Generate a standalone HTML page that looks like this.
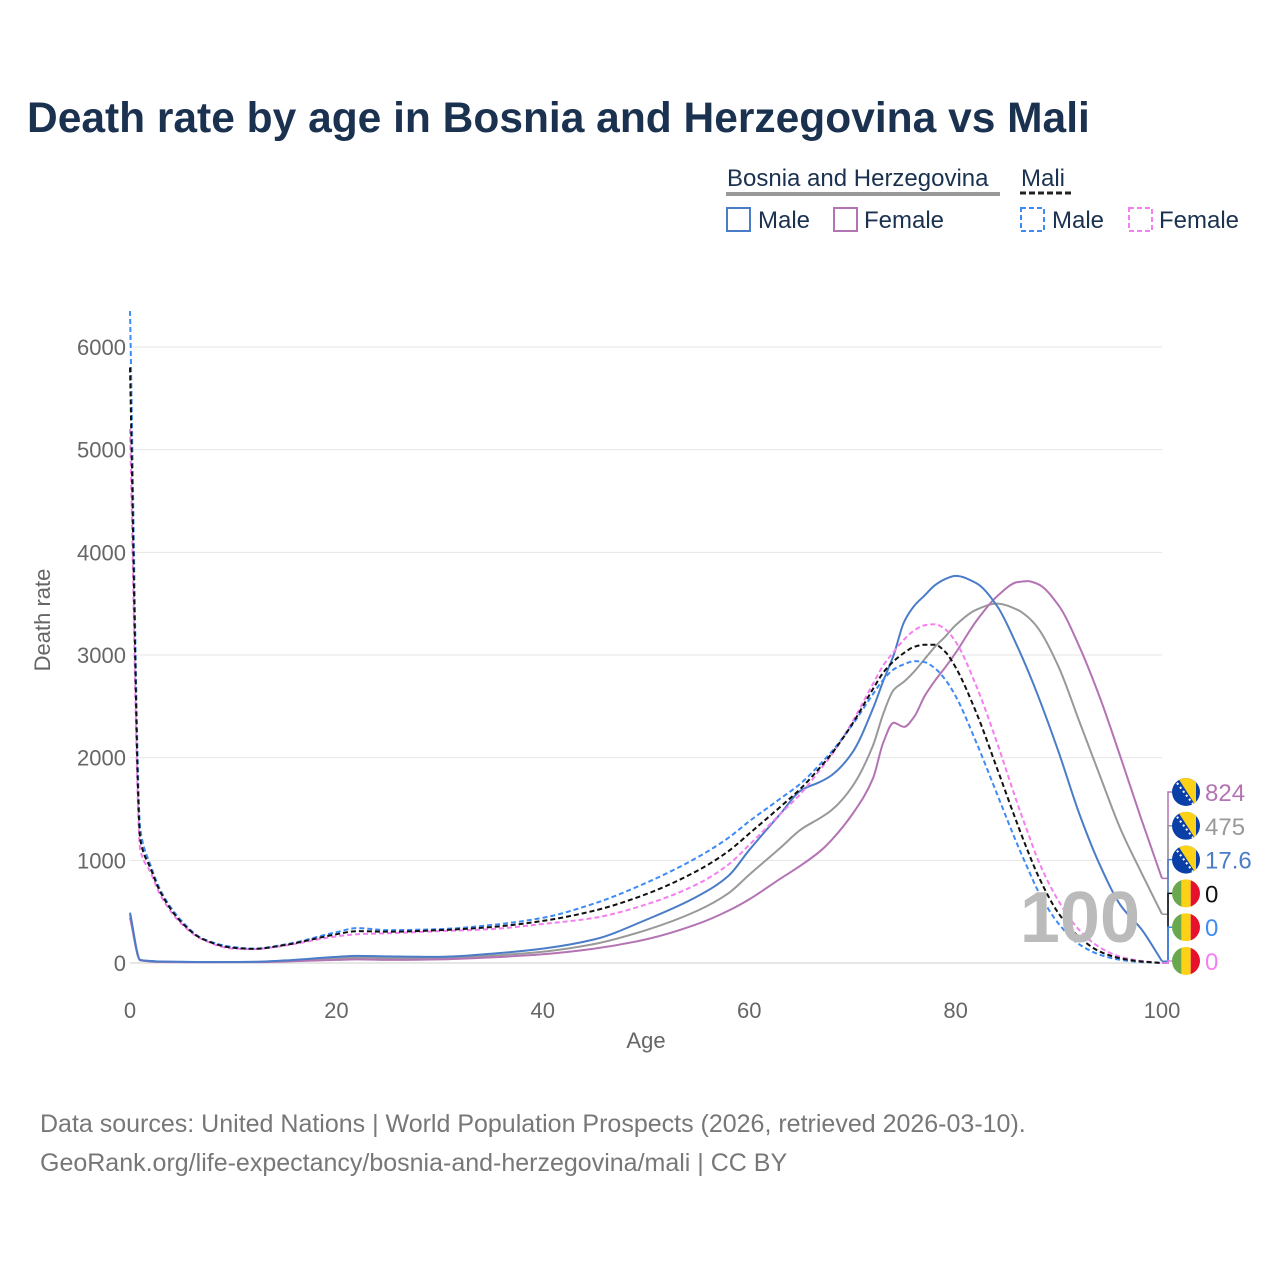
<!DOCTYPE html>
<html><head><meta charset="utf-8"><style>
body{margin:0;background:#fff;width:1280px;height:1280px;overflow:hidden;font-family:"Liberation Sans",sans-serif}
</style></head><body>
<svg id="chart" width="1280" height="1280" xmlns="http://www.w3.org/2000/svg" font-family="Liberation Sans, sans-serif">
<defs><clipPath id="cc"><circle cx="0" cy="0" r="14"/></clipPath></defs>
<text x="27" y="132" font-size="42.5" font-weight="bold" fill="#1a3150">Death rate by age in Bosnia and Herzegovina vs Mali</text>
<g fill="#1a3150" font-size="24">
<text x="727" y="186">Bosnia and Herzegovina</text>
<rect x="726" y="192" width="274" height="4" fill="#999"/>
<text x="1021" y="186">Mali</text>
<line x1="1020" y1="193" x2="1071" y2="193" stroke="#222" stroke-width="3" stroke-dasharray="6,3"/>
<rect x="727" y="208" width="23" height="23" fill="none" stroke="#4a7cc8" stroke-width="2"/>
<text x="758" y="228">Male</text>
<rect x="834" y="208" width="23" height="23" fill="none" stroke="#b474b4" stroke-width="2"/>
<text x="864" y="228">Female</text>
<rect x="1021" y="208" width="23" height="23" fill="none" stroke="#3f8bf5" stroke-width="2" stroke-dasharray="5,3"/>
<text x="1052" y="228">Male</text>
<rect x="1129" y="208" width="23" height="23" fill="none" stroke="#f57ef0" stroke-width="2" stroke-dasharray="5,3"/>
<text x="1159" y="228">Female</text>
</g>
<g id="grid"></g><g id="axes"></g><g id="lines"></g><g id="labels"></g>
<text transform="translate(50,620) rotate(-90)" text-anchor="middle" font-size="22" fill="#666">Death rate</text>
<text x="646" y="1048" text-anchor="middle" font-size="22" fill="#666">Age</text>
<text x="1140" y="942" text-anchor="end" font-size="72" font-weight="bold" fill="#bbb">100</text>
<text x="40" y="1132" font-size="25" fill="#777">Data sources: United Nations | World Population Prospects (2026, retrieved 2026-03-10).</text>
<text x="40" y="1171" font-size="25" fill="#777">GeoRank.org/life-expectancy/bosnia-and-herzegovina/mali | CC BY</text>
</svg>
<script>
const ages=[0,1,2,3,5,7,10,12,15,20,22,25,30,35,40,45,50,55,58,60,63,65,67,68,70,72,73,74,75,76,77,78,79,80,82,84,86,87,88,90,92,94,96,98,100];
const bihMale=[490,30,20,15,12,10,10,12,25,60,70,65,60,90,140,230,420,650,850,1100,1450,1680,1770,1830,2050,2480,2750,3000,3320,3480,3580,3680,3740,3770,3700,3480,3080,2850,2600,2050,1450,950,560,330,17.6];
const bihFemale=[440,25,15,10,8,7,8,8,15,30,35,30,35,55,85,140,230,380,510,620,820,950,1100,1200,1450,1800,2150,2340,2300,2400,2600,2750,2880,3020,3330,3570,3710,3720,3690,3480,3080,2580,2000,1400,824];
const bihTotal=[470,28,18,12,10,9,9,10,20,45,52,48,48,72,110,185,320,510,680,860,1120,1300,1420,1490,1720,2120,2430,2660,2740,2840,2960,3080,3180,3290,3440,3500,3440,3370,3260,2880,2350,1820,1300,880,475];
const maliMale=[6350,1300,950,700,410,240,155,140,180,300,340,320,330,370,440,580,780,1030,1220,1380,1600,1750,1950,2060,2320,2620,2760,2860,2910,2940,2930,2870,2760,2600,2150,1650,1150,920,700,380,180,80,30,10,0];
const maliFemale=[5200,1100,880,650,380,230,140,135,170,260,280,290,310,330,380,440,570,770,960,1150,1450,1650,1900,2030,2350,2720,2900,3030,3150,3240,3290,3300,3250,3130,2700,2150,1550,1270,1000,600,320,150,60,20,0];
const maliTotal=[5800,1200,920,680,395,235,148,138,175,280,310,305,320,350,410,510,670,900,1090,1260,1520,1700,1920,2040,2330,2670,2830,2940,3020,3080,3100,3100,3030,2880,2440,1900,1350,1090,850,480,250,110,45,15,0];
const yTicks=[0,1000,2000,3000,4000,5000,6000];
const xTicks=[0,20,40,60,80,100];
const endLabels=["824","475","17.6","0","0","0"];
const NS="http://www.w3.org/2000/svg";
const X=a=>130+a*10.32, Y=v=>963-v*0.10267;
function mk(t,at,p){const e=document.createElementNS(NS,t);for(const k in at)e.setAttribute(k,at[k]);p.appendChild(e);return e;}
const grid=document.getElementById('grid'),axes=document.getElementById('axes'),lines=document.getElementById('lines'),labels=document.getElementById('labels');
yTicks.forEach(v=>{
 const l=mk('line',{x1:130,x2:1162,y1:Y(v),y2:Y(v),stroke:v?'#e6e6e6':'#ccc','stroke-width':1},grid);
 
 
 const t=mk('text',{x:126,y:Y(v)+8,'text-anchor':'end','font-size':22,fill:'#666'},axes);t.textContent=v;
 
 
});
xTicks.forEach(a=>{
 const t=mk('text',{x:X(a),y:1018,'text-anchor':'middle','font-size':22,fill:'#666'},axes);t.textContent=a;
 
 
});
function pathD(vals){
 const xs=ages.map(X), ys=vals.map(Y), n=xs.length;
 const d=[],m=[];
 for(let i=0;i<n-1;i++)d.push((ys[i+1]-ys[i])/(xs[i+1]-xs[i]));
 m[0]=d[0];m[n-1]=d[n-2];
 for(let i=1;i<n-1;i++){
  if(d[i-1]*d[i]<=0)m[i]=0;
  else{const h0=xs[i]-xs[i-1],h1=xs[i+1]-xs[i];const w1=2*h1+h0,w2=h1+2*h0;m[i]=(w1+w2)/(w1/d[i-1]+w2/d[i]);}
 }
 let s='M'+xs[0]+','+ys[0];
 for(let i=0;i<n-1;i++){
  const h=(xs[i+1]-xs[i])/3;
  s+=` C${xs[i]+h},${ys[i]+m[i]*h} ${xs[i+1]-h},${ys[i+1]-m[i+1]*h} ${xs[i+1]},${ys[i+1]}`;
 }
 return s;
}
const series=[
 {v:bihTotal,c:'#999',dash:null,n:'line-bih-total'},
 {v:bihFemale,c:'#b474b4',dash:null,n:'line-bih-female'},
 {v:bihMale,c:'#4a7cc8',dash:null,n:'line-bih-male'},
 {v:maliFemale,c:'#f57ef0',dash:'5,3',n:'line-mali-female'},
 {v:maliMale,c:'#3f8bf5',dash:'5,3',n:'line-mali-male'},
 {v:maliTotal,c:'#111',dash:'5,3',n:'line-mali-total'}];
series.forEach(s=>{
 const e=mk('path',{d:pathD(s.v),fill:'none',stroke:s.c,'stroke-width':2},lines);
 if(s.dash)e.setAttribute('stroke-dasharray',s.dash);
 
 
});
const lab=[{v:bihFemale,c:'#b474b4',f:'bih'},{v:bihTotal,c:'#999',f:'bih'},{v:bihMale,c:'#4a7cc8',f:'bih'},{v:maliTotal,c:'#111',f:'mali'},{v:maliMale,c:'#3f8bf5',f:'mali'},{v:maliFemale,c:'#f57ef0',f:'mali'}];
lab.forEach((s,i)=>{
 const ly=792+i*33.8, ey=Y(s.v[s.v.length-1]);
 const c=mk('polyline',{points:`1162,${ey} 1168,${ey} 1168,${ly} 1174,${ly}`,fill:'none',stroke:s.c,'stroke-width':1.5},labels);
 
 
 const g=mk('g',{transform:`translate(1186,${ly})`},labels);
 
 
 const cg=mk('g',{'clip-path':'url(#cc)'},g);
 if(s.f==='bih'){
  mk('rect',{x:-14,y:-14,width:28,height:28,fill:'#0a3fa8'},cg);
  mk('polygon',{points:'-8,-14 10,-14 10,14',fill:'#fcd116'},cg);
  mk('line',{x1:-9,y1:-9,x2:7,y2:12,stroke:'#fff','stroke-width':2,'stroke-dasharray':'2,3'},cg);
 }else{
  mk('rect',{x:-14,y:-14,width:10,height:28,fill:'#6aa84f'},cg);
  mk('rect',{x:-4.7,y:-14,width:9.4,height:28,fill:'#fcd116'},cg);
  mk('rect',{x:4.7,y:-14,width:10,height:28,fill:'#e8112d'},cg);
 }
 const t=mk('text',{x:1205,y:ly+9,'font-size':24,fill:s.c},labels);t.textContent=endLabels[i];
 
 
});
</script>
</body></html>
